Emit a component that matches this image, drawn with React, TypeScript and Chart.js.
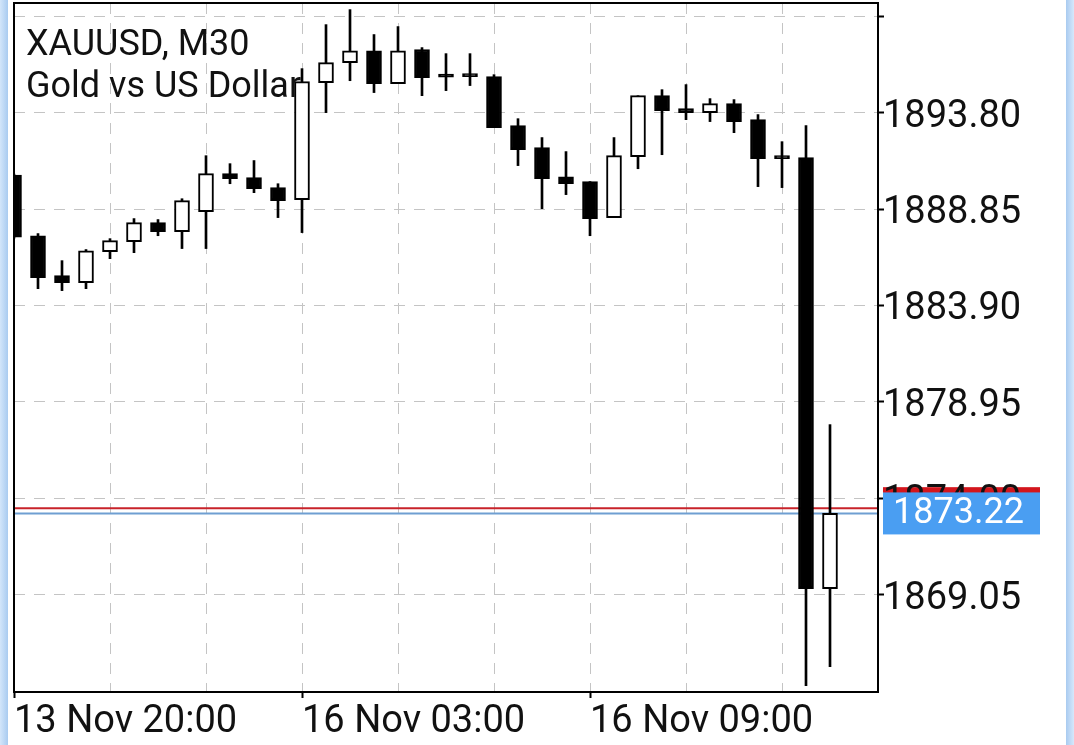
import React, { useEffect, useRef } from 'react';
import { Chart, registerables } from 'chart.js';

Chart.register(...registerables);

// ---- data ----
const symbolTitle = 'XAUUSD, M30';
const symbolDescription = 'Gold vs US Dollar';

const times = [
  '13 Nov 20:00', '13 Nov 20:30', '13 Nov 21:00', '13 Nov 21:30', '13 Nov 22:00', '13 Nov 22:30',
  '13 Nov 23:00', '13 Nov 23:30', '16 Nov 01:00', '16 Nov 01:30', '16 Nov 02:00', '16 Nov 02:30',
  '16 Nov 03:00', '16 Nov 03:30', '16 Nov 04:00', '16 Nov 04:30', '16 Nov 05:00', '16 Nov 05:30',
  '16 Nov 06:00', '16 Nov 06:30', '16 Nov 07:00', '16 Nov 07:30', '16 Nov 08:00', '16 Nov 08:30',
  '16 Nov 09:00', '16 Nov 09:30', '16 Nov 10:00', '16 Nov 10:30', '16 Nov 11:00', '16 Nov 11:30',
  '16 Nov 12:00', '16 Nov 12:30', '16 Nov 13:00', '16 Nov 13:30', '16 Nov 14:00',
];

const opens = [
  1890.60, 1887.48, 1885.43, 1885.07, 1886.66, 1887.18, 1888.15, 1887.69, 1888.72, 1890.67,
  1890.46, 1889.95, 1889.33, 1895.34, 1896.37, 1896.98, 1895.29, 1897.04, 1895.70, 1895.70,
  1895.65, 1893.13, 1892.00, 1890.51, 1890.26, 1888.41, 1891.54, 1894.67, 1894.01, 1893.80,
  1894.26, 1893.44, 1891.54, 1891.49, 1869.36,
];
const highs = [
  1890.65, 1887.59, 1886.20, 1886.77, 1887.33, 1888.36, 1888.31, 1889.38, 1891.59, 1891.18,
  1891.34, 1890.15, 1896.06, 1898.32, 1899.09, 1897.81, 1898.22, 1897.14, 1896.83, 1896.83,
  1895.75, 1893.49, 1892.52, 1891.80, 1890.26, 1892.52, 1894.67, 1894.98, 1895.24, 1894.52,
  1894.47, 1893.70, 1892.31, 1893.13, 1877.78,
];
const lows = [
  1887.35, 1884.76, 1884.66, 1884.76, 1886.30, 1886.61, 1887.48, 1886.82, 1886.82, 1890.15,
  1889.69, 1888.41, 1887.64, 1893.80, 1895.44, 1894.83, 1895.29, 1894.67, 1894.93, 1895.19,
  1893.03, 1891.08, 1888.87, 1889.59, 1887.48, 1888.41, 1890.92, 1891.64, 1893.44, 1893.34,
  1892.77, 1890.00, 1889.95, 1864.38, 1865.35,
];
const closes = [
  1887.40, 1885.33, 1885.07, 1886.71, 1887.23, 1888.15, 1887.69, 1889.28, 1890.67, 1890.41,
  1889.90, 1889.28, 1895.39, 1896.37, 1896.98, 1895.29, 1896.98, 1895.60, 1895.62, 1895.65,
  1893.03, 1891.90, 1890.41, 1890.15, 1888.36, 1891.59, 1894.67, 1893.90, 1893.80, 1894.26,
  1893.34, 1891.44, 1891.44, 1869.36, 1873.22,
];

const yTickValues = [1869.05, 1874.0, 1878.95, 1883.9, 1888.85, 1893.8, 1898.75];
const xTickIndices = [0, 4, 8, 12, 16, 20, 24, 28, 32, 36];
const xLabelIndices = [0, 12, 24];
const bidPrice = 1873.22;
const askPrice = 1873.49;

const FONT = 'Roboto';

const overlayPlugin = {
  id: 'mtOverlay',
  beforeDraw(chart: any) {
    const { ctx, chartArea } = chart;
    const y = chart.scales.y.getPixelForValue(askPrice);
    ctx.save();
    ctx.fillStyle = '#d3161d';
    ctx.fillRect(chartArea.right + 5, y - 21, 157, 42);
    ctx.restore();
  },
  beforeDatasetsDraw(chart: any) {
    const { ctx, chartArea } = chart;
    const ya = chart.scales.y.getPixelForValue(askPrice);
    const yb = chart.scales.y.getPixelForValue(bidPrice);
    ctx.save();
    ctx.lineWidth = 2;
    ctx.strokeStyle = '#c8232a';
    ctx.beginPath();
    ctx.moveTo(chartArea.left, ya);
    ctx.lineTo(chartArea.right, ya);
    ctx.stroke();
    ctx.strokeStyle = '#6f9fd2';
    ctx.beginPath();
    ctx.moveTo(chartArea.left, yb);
    ctx.lineTo(chartArea.right, yb);
    ctx.stroke();
    ctx.restore();
  },
  afterDatasetsDraw(chart: any) {
    const { ctx, chartArea } = chart;
    ctx.save();
    ctx.lineWidth = 2;
    ctx.strokeStyle = '#000';
    ctx.strokeRect(chartArea.left, chartArea.top, chartArea.right - chartArea.left, chartArea.bottom - chartArea.top);
    ctx.fillStyle = '#111';
    ctx.font = `36px ${FONT}`;
    ctx.textBaseline = 'alphabetic';
    ctx.textAlign = 'left';
    ctx.fillText(symbolTitle, 26, 55);
    ctx.fillText(symbolDescription, 26, 97);
    ctx.restore();
  },
  afterDraw(chart: any) {
    const { ctx, chartArea } = chart;
    const y = chart.scales.y.getPixelForValue(bidPrice);
    ctx.save();
    ctx.fillStyle = '#4a9ef2';
    ctx.fillRect(chartArea.right + 5, y - 21, 157, 42);
    ctx.fillStyle = '#ffffff';
    ctx.font = `36px ${FONT}`;
    ctx.textBaseline = 'middle';
    ctx.textAlign = 'left';
    ctx.fillText(bidPrice.toFixed(2), chartArea.right + 15, y + 1);
    ctx.restore();
  },
};

export default function App() {
  const canvasRef = useRef<HTMLCanvasElement | null>(null);

  useEffect(() => {
    document.body.style.margin = '0';
    const canvas = canvasRef.current;
    if (!canvas) return;

    const wickData = times.map((_, i) => ({ x: i, y: [lows[i], highs[i]] }));
    const bodyData = times.map((_, i) => ({ x: i, y: [opens[i], closes[i]] }));
    const bodyColors = times.map((_, i) => (closes[i] > opens[i] ? '#ffffff' : '#000000'));

    const chart = new Chart(canvas, {
      type: 'bar',
      data: {
        datasets: [
          {
            label: 'wick',
            data: wickData as any,
            backgroundColor: '#000000',
            borderWidth: 0,
            barThickness: 2,
            grouped: false,
            order: 2,
          } as any,
          {
            label: 'body',
            data: bodyData as any,
            backgroundColor: bodyColors,
            borderColor: '#000000',
            borderWidth: 2,
            borderSkipped: false,
            barThickness: 15,
            minBarLength: 3,
            grouped: false,
            order: 1,
          } as any,
        ],
      },
      options: {
        responsive: false,
        animation: false,
        devicePixelRatio: 1,
        layout: { padding: { left: 14, top: 3, right: 0, bottom: 0 } },
        plugins: {
          legend: { display: false },
          tooltip: { enabled: false },
          title: { display: false },
        },
        scales: {
          x: {
            type: 'linear',
            position: 'bottom',
            offset: false,
            min: 0,
            max: 36,
            afterBuildTicks: (scale: any) => {
              scale.ticks = xTickIndices.map((v) => ({ value: v }));
            },
            afterFit: (scale: any) => {
              scale.height = 53;
              scale.paddingLeft = 0;
              scale.paddingRight = 0;
            },
            ticks: {
              autoSkip: false,
              maxRotation: 0,
              minRotation: 0,
              align: 'start',
              padding: 2,
              color: '#111',
              font: { family: FONT, size: 38 },
              callback: (value: any) => (xLabelIndices.includes(Number(value)) ? times[Number(value)] : ''),
            },
            grid: {
              offset: false,
              color: '#c4c4c4',
              lineWidth: 1,
              drawTicks: true,
              tickLength: 6,
              tickWidth: 2,
              tickBorderDash: [],
              tickColor: (ctx: any) =>
                ctx.tick && xLabelIndices.includes(ctx.tick.value) ? '#000' : 'rgba(0,0,0,0)',
            },
            border: { display: false, dash: [11, 9] },
          } as any,
          y: {
            type: 'linear',
            position: 'right',
            min: 1864.05,
            max: 1899.43,
            afterBuildTicks: (scale: any) => {
              scale.ticks = yTickValues.map((v) => ({ value: v }));
            },
            afterFit: (scale: any) => {
              scale.width = 196;
              scale.paddingTop = 0;
              scale.paddingBottom = 0;
            },
            ticks: {
              autoSkip: false,
              padding: -1,
              color: '#111',
              font: { family: FONT, size: 38, lineHeight: '9px' },
              // leading empty line nudges the label slightly below its grid line, as in the source
              callback: (value: any, index: number) =>
                index === yTickValues.length - 1 ? '' : ['', Number(value).toFixed(2)],
            },
            grid: {
              color: '#c4c4c4',
              lineWidth: 1,
              drawTicks: true,
              tickLength: 6,
              tickWidth: 2,
              tickBorderDash: [],
              tickColor: '#000',
            },
            border: { display: false, dash: [11, 9] },
          } as any,
        },
      } as any,
      plugins: [overlayPlugin],
    });

    return () => {
      chart.destroy();
    };
  }, []);

  return (
    <div style={{ position: 'fixed', left: 0, top: 0, width: 1074, height: 745, background: '#fff', overflow: 'hidden' }}>
      <canvas ref={canvasRef} width={1074} height={745} style={{ display: 'block' }} />
      <div
        style={{
          position: 'absolute',
          left: 0,
          top: 0,
          width: 8,
          height: 745,
          background: 'linear-gradient(to right, #d3e6fa, #a9cbf0)',
        }}
      />
      <div
        style={{
          position: 'absolute',
          left: 1066,
          top: 0,
          width: 8,
          height: 745,
          background: 'linear-gradient(to right, #a9cbf0, #d6e8fb)',
        }}
      />
    </div>
  );
}
